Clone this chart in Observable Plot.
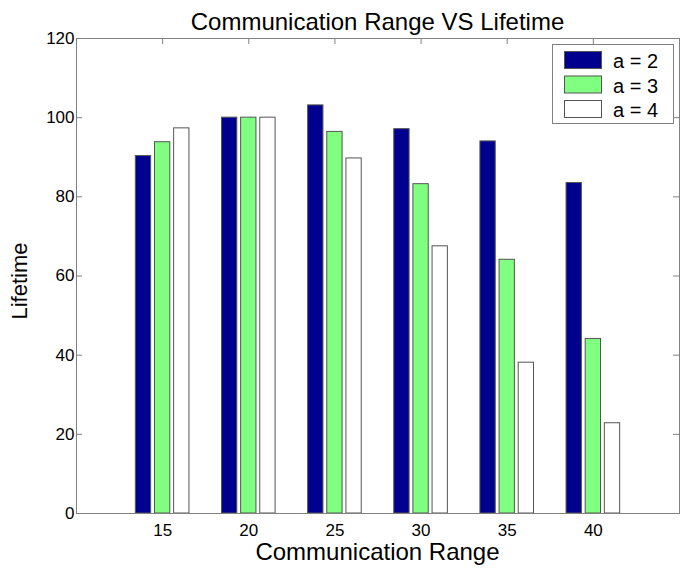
<!DOCTYPE html>
<html>
<head>
<meta charset="utf-8">
<script src="https://cdn.jsdelivr.net/npm/d3@7"></script>
<script src="https://cdn.jsdelivr.net/npm/@observablehq/plot@0.6"></script>
<style>
  html, body { margin: 0; padding: 0; background: #fff; }
  #chart { width: 685px; height: 569px; }
</style>
</head>
<body>
<div id="chart"></div>
<script>
// ---- data ----
const ranges = [15, 20, 25, 30, 35, 40];
const seriesNames = ["a = 2", "a = 3", "a = 4"];
const a2 = [90.3, 100.0, 103.1, 97.1, 94.0, 83.5];
const a3 = [93.8, 100.0, 96.4, 83.2, 64.1, 44.1];
const a4 = [97.3, 100.0, 89.7, 67.5, 38.1, 22.8];
const yTicks = [0, 20, 40, 60, 80, 100, 120];
const colors = ["#00008f", "#80ff80", "#ffffff"];
const titleText = "Communication Range VS Lifetime";
const xLabel = "Communication Range";
const yLabel = "Lifetime";

// ---- layout ----
const W = 685, H = 569;
const mL = 76, mR = 6, mT = 38, mB = 56;
const innerW = W - mL - mR, innerH = H - mT - mB;
const axisGray = "#808080";
const groupStep = 5 * (2 / 3) / 3;   // MATLAB grouped bar offsets
const barW = groupStep * 0.8;

const seriesVals = [a2, a3, a4];
const rows = [];
seriesVals.forEach((vals, s) => {
  vals.forEach((v, i) => {
    const c = ranges[i] + (s - 1) * groupStep;
    rows.push({series: seriesNames[s], x1: c - barW / 2, x2: c + barW / 2, value: v});
  });
});

const plot = Plot.plot({
  width: W, height: H,
  marginLeft: mL, marginRight: mR, marginTop: mT, marginBottom: mB,
  style: {fontFamily: "'Liberation Sans', Arial, Helvetica, sans-serif", fontSize: "17px", color: "#000", background: "#fff"},
  x: {domain: [10, 45], label: null},
  y: {domain: [0, 120], label: null},
  color: {domain: seriesNames, range: colors},
  marks: [
    Plot.tickX(ranges, {x: d => d, stroke: axisGray, insetBottom: innerH - 6}),
    Plot.tickX(ranges, {x: d => d, stroke: axisGray, insetTop: innerH - 6}),
    Plot.tickY(yTicks, {y: d => d, stroke: axisGray, insetRight: innerW - 6}),
    Plot.tickY(yTicks, {y: d => d, stroke: axisGray, insetLeft: innerW - 6}),
    Plot.rectY(rows, {x1: "x1", x2: "x2", y: "value", fill: "series", stroke: "#555", strokeWidth: 1}),
    Plot.axisX({ticks: ranges, tickSize: 0, tickPadding: 10, label: null, fontSize: 17}),
    Plot.axisY({ticks: yTicks, tickSize: 0, tickPadding: 2, label: null, fontSize: 17}),
    Plot.frame({stroke: axisGray})
  ]
});
document.getElementById("chart").appendChild(plot);

// ---- title, axis labels, legend (text) ----
const svg = d3.select(plot);
const font = "'Liberation Sans', Arial, Helvetica, sans-serif";
const cx = mL + innerW / 2;
svg.append("text").attr("x", cx).attr("y", 30).attr("text-anchor", "middle")
  .attr("font-family", font).attr("font-size", 24).attr("fill", "#000").text(titleText);
svg.append("text").attr("x", cx).attr("y", 560).attr("text-anchor", "middle")
  .attr("font-family", font).attr("font-size", 24).attr("fill", "#000").text(xLabel);
svg.append("text").attr("transform", "translate(27,281) rotate(-90)").attr("text-anchor", "middle")
  .attr("font-family", font).attr("font-size", 22).attr("fill", "#000").text(yLabel);

const lg = svg.append("g");
lg.append("rect").attr("x", 552.5).attr("y", 44.5).attr("width", 121).attr("height", 79)
  .attr("fill", "#fff").attr("stroke", axisGray);
seriesNames.forEach((name, i) => {
  const y0 = 51.5 + i * 24.5;
  lg.append("rect").attr("x", 564.5).attr("y", y0).attr("width", 37).attr("height", 17)
    .attr("fill", colors[i]).attr("stroke", "#555");
  lg.append("text").attr("x", 613).attr("y", y0 + 16.5).attr("text-anchor", "start")
    .attr("font-family", font).attr("font-size", 20).attr("fill", "#000").text(name);
});
</script>
</body>
</html>
